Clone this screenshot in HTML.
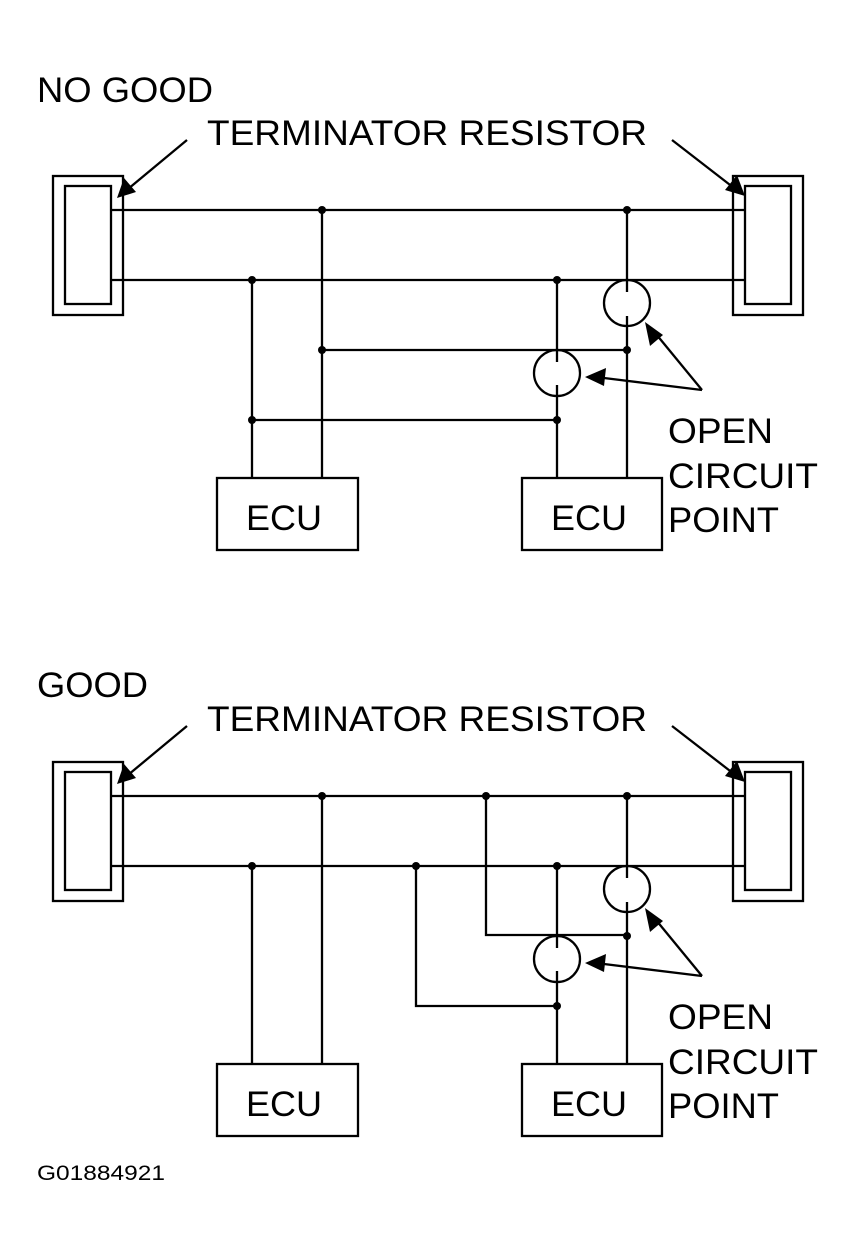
<!DOCTYPE html>
<html><head><meta charset="utf-8"><style>
html,body{margin:0;padding:0;background:#fff;}
svg{display:block;}
text{font-family:"Liberation Sans",Arial,sans-serif;fill:#000;}
</style></head><body>
<svg width="855" height="1256" viewBox="0 0 855 1256" xmlns="http://www.w3.org/2000/svg">
<defs>
<g id="common" stroke="#000" stroke-width="2.3" fill="none">
  <rect x="53" y="176" width="70" height="139"/>
  <rect x="65" y="186" width="46" height="118"/>
  <rect x="733" y="176" width="70" height="139"/>
  <rect x="745" y="186" width="46" height="118"/>
  <line x1="111" y1="210" x2="745" y2="210"/>
  <line x1="111" y1="280" x2="745" y2="280"/>
  <line x1="322" y1="210" x2="322" y2="478"/>
  <line x1="252" y1="280" x2="252" y2="478"/>
  <line x1="627" y1="210" x2="627" y2="292"/>
  <line x1="627" y1="316" x2="627" y2="478"/>
  <circle cx="627" cy="303" r="23"/>
  <line x1="557" y1="280" x2="557" y2="362"/>
  <line x1="557" y1="385" x2="557" y2="478"/>
  <circle cx="557" cy="373" r="23"/>
  <rect x="217" y="478" width="141" height="72"/>
  <rect x="522" y="478" width="140" height="72"/>
  <line x1="187" y1="140" x2="128" y2="189"/>
  <line x1="672" y1="140" x2="734" y2="188"/>
  <line x1="702" y1="390" x2="604" y2="378"/>
  <line x1="702" y1="390" x2="656" y2="334"/>
  <g fill="#000" stroke="none">
    <circle cx="322" cy="210" r="4"/>
    <circle cx="627" cy="210" r="4"/>
    <circle cx="252" cy="280" r="4"/>
    <circle cx="557" cy="280" r="4"/>
    <circle cx="627" cy="350" r="4"/>
    <circle cx="557" cy="420" r="4"/>
    <polygon points="117,198 124,178 136,192"/>
    <polygon points="745,196 725,190 737,175"/>
    <polygon points="585,377 606,368 604,386"/>
    <polygon points="645,322 663,335 650,346"/>
  </g>
  <g stroke="none" fill="#000">
    <text x="207" y="145" font-size="35" textLength="440" lengthAdjust="spacingAndGlyphs">TERMINATOR RESISTOR</text>
    <text x="246" y="530" font-size="35" textLength="76" lengthAdjust="spacingAndGlyphs">ECU</text>
    <text x="551" y="530" font-size="35" textLength="76" lengthAdjust="spacingAndGlyphs">ECU</text>
    <text x="668" y="443" font-size="35" textLength="105" lengthAdjust="spacingAndGlyphs">OPEN</text>
    <text x="668" y="488" font-size="35" textLength="150" lengthAdjust="spacingAndGlyphs">CIRCUIT</text>
    <text x="668" y="532" font-size="35" textLength="111" lengthAdjust="spacingAndGlyphs">POINT</text>
  </g>
</g>
</defs>
<text x="37" y="102" font-size="35" textLength="176" lengthAdjust="spacingAndGlyphs">NO GOOD</text>
<use href="#common"/>
<g stroke="#000" stroke-width="2.3" fill="none">
  <line x1="322" y1="350" x2="627" y2="350"/>
  <line x1="252" y1="420" x2="557" y2="420"/>
</g>
<g fill="#000"><circle cx="322" cy="350" r="4"/><circle cx="252" cy="420" r="4"/></g>

<text x="37" y="697" font-size="35" textLength="111" lengthAdjust="spacingAndGlyphs">GOOD</text>
<g transform="translate(0,586)">
  <use href="#common"/>
  <g stroke="#000" stroke-width="2.3" fill="none">
    <polyline points="486,210 486,349 627,349"/>
    <polyline points="416,280 416,420 557,420"/>
  </g>
  <g fill="#000"><circle cx="486" cy="210" r="4"/><circle cx="416" cy="280" r="4"/></g>
</g>
<text x="37" y="1180" font-size="21" textLength="128" lengthAdjust="spacingAndGlyphs">G01884921</text>
</svg>
</body></html>
